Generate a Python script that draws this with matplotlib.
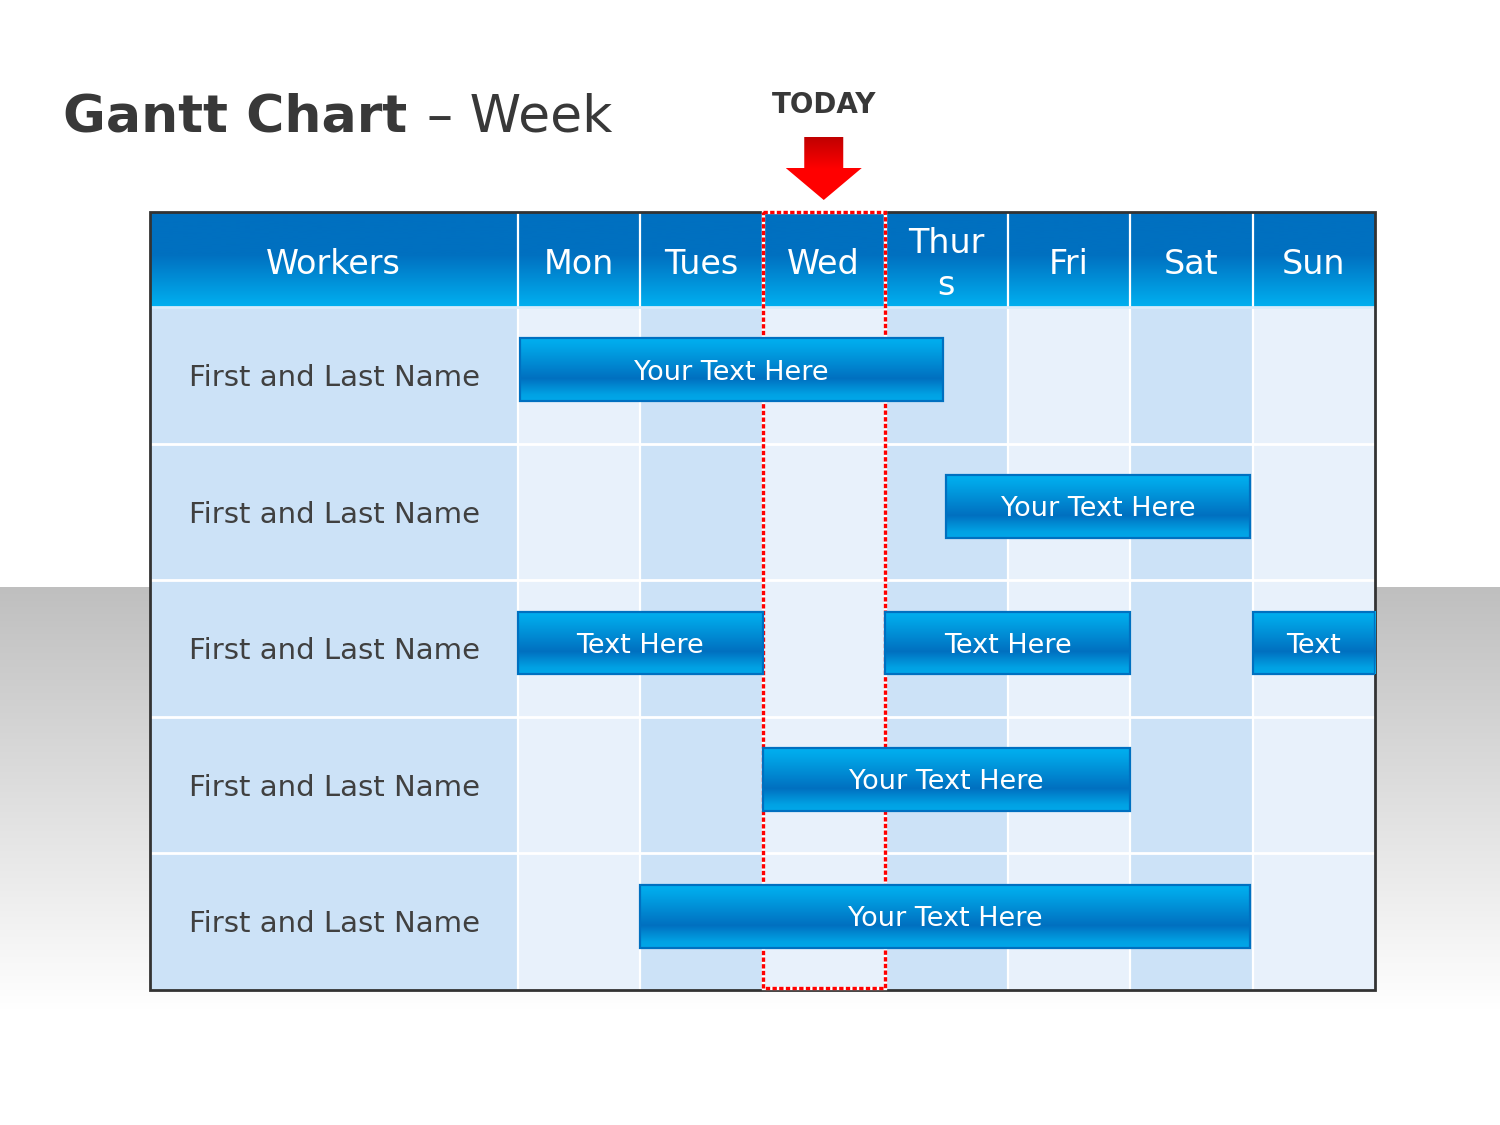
#! /usr/bin/env python

# Gantt chart for one week, drawn as a table with gradient bars

import numpy as np
import matplotlib.pyplot as plt
from matplotlib.patches import Rectangle, Polygon
from matplotlib.colors import LinearSegmentedColormap

plt.rcParams['font.family'] = ['DejaVu Sans']

# data
days = ["Mon", "Tues", "Wed", "Thur\ns", "Fri", "Sat", "Sun"]
workers = ["First and Last Name"] * 5
bar_row = [0, 1, 2, 2, 2, 3, 4]
bar_start = [0.02, 3.5, 0.0, 3.0, 6.0, 2.0, 1.0]
bar_end = [3.47, 5.98, 2.0, 5.0, 7.0, 5.0, 5.98]
bar_text = ["Your Text Here", "Your Text Here", "Text Here", "Text Here",
            "Text", "Your Text Here", "Your Text Here"]
today = 2  # Wed

light = "#e8f1fb"
dark = "#cce2f7"
hh = 95 / 136.6  # header height in row units

fig = plt.figure(figsize=(15, 11.25), dpi=100)

# background with the gray band
bg = fig.add_axes([0, 0, 1, 1])
bg.axis("off")
grey = LinearSegmentedColormap.from_list("grey", ["#bfbfbf", "#ffffff"])
bg.imshow(np.linspace(0, 1, 256)[:, None], cmap=grey, aspect="auto",
          extent=(0, 1500, 1010, 587))
bg.set_xlim(0, 1500)
bg.set_ylim(1125, 0)

# title
fig.text(63 / 1500, 1 - 131 / 1125, "Gantt Chart", fontsize=37.5,
         fontweight="bold", color="#383838", va="baseline")
fig.text(427 / 1500, 1 - 131 / 1125, "\u2013 Week", fontsize=37.5,
         color="#383838", va="baseline")

# table
ax = fig.add_axes([150 / 1500, 1 - 990 / 1125, 1225 / 1500, 778 / 1125])
ax.axis("off")
ax.set_xlim(-3, 7)
ax.set_ylim(5, -hh)

# column shading
ax.add_patch(Rectangle((-3, 0), 3, 5, facecolor=dark, edgecolor="none", zorder=1))
for i in range(len(days)):
    col = light if i % 2 == 0 else dark
    ax.add_patch(Rectangle((i, 0), 1, 5, facecolor=col, edgecolor="none", zorder=1))

# header gradient
head_cmap = LinearSegmentedColormap.from_list(
    "head", [(0, "#0070c0"), (0.45, "#0070c0"), (1, "#00b0f0")])
grad = np.linspace(0, 1, 256)[:, None]
ax.imshow(grad, cmap=head_cmap, aspect="auto", extent=(-3, 7, 0, -hh), zorder=2)

# grid lines
ax.vlines(range(0, 7), -hh, 5, colors="white", lw=1.6, zorder=3)
ax.hlines(range(1, 5), -3, 7, colors="white", lw=2, zorder=3)
ax.hlines([0], -3, 7, colors="#d8ecfb", lw=2, zorder=3)

# header text
hy = -hh / 2 + 5 / 136.6
ax.text(-1.5, hy, "Workers", ha="center", va="center", color="white",
        fontsize=24, zorder=6)
for i, d in enumerate(days):
    ax.text(i + 0.5, hy, d, ha="center", va="center", color="white",
            fontsize=24, linespacing=1.35, zorder=6)

# worker names
for r, name in enumerate(workers):
    ax.text(-3 + 39 / 122.5, r + 0.52, name, ha="left", va="center",
            color="#404040", fontsize=21, zorder=6)

# today marker
ax.add_patch(Rectangle((today, -hh), 1, 5 + hh - 0.015, fill=False,
                       edgecolor="white", lw=2.4, zorder=8, clip_on=False))
ax.add_patch(Rectangle((today, -hh), 1, 5 + hh - 0.015, fill=False,
                       edgecolor="#ff0000", lw=2.4, linestyle=(0, (1.3, 0.7)),
                       zorder=8, clip_on=False))

# bars
bar_cmap = LinearSegmentedColormap.from_list(
    "bar", [(0, "#00b0f0"), (0.15, "#00a4e6"), (0.64, "#0070c0"),
            (0.9, "#00a2e4"), (1, "#00a8ea")])
for r, s, e, t in zip(bar_row, bar_start, bar_end, bar_text):
    y0 = r + 0.23
    y1 = r + 0.69
    ax.imshow(grad, cmap=bar_cmap, aspect="auto", extent=(s, e, y1, y0), zorder=9)
    ax.add_patch(Rectangle((s, y0), e - s, y1 - y0, fill=False,
                           edgecolor="#0070c0", lw=1.6, zorder=9))
    ax.text((s + e) / 2, (y0 + y1) / 2 + 0.02, t, ha="center", va="center",
            color="white", fontsize=19.5, zorder=10)

# border
ax.add_patch(Rectangle((-3, -hh), 10, 5 + hh, fill=False, edgecolor="#333333",
                       lw=2, zorder=7, clip_on=False))

# TODAY arrow, drawn on the background axes at the today column
cx = today + 0.5
sw = 19.5 / 122.5
hw = 38 / 122.5
y_top = -hh - 75 / 136.6
y_head = -hh - 44 / 136.6
y_tip = -hh - 12 / 136.6
pts = np.array([(cx - sw, y_top), (cx + sw, y_top), (cx + sw, y_head),
                (cx + hw, y_head), (cx, y_tip), (cx - hw, y_head),
                (cx - sw, y_head)])
pts = bg.transData.inverted().transform(ax.transData.transform(pts))
arrow = Polygon(pts, closed=True, facecolor="none", edgecolor="none")
bg.add_patch(arrow)
red = LinearSegmentedColormap.from_list("red", [(0, "#c00000"), (0.5, "#ff0000"), (1, "#ff0000")])
im = bg.imshow(grad, cmap=red, aspect="auto",
               extent=(pts[:, 0].min(), pts[:, 0].max(),
                       pts[:, 1].max(), pts[:, 1].min()), zorder=5)
im.set_clip_path(arrow)
bg.set_xlim(0, 1500)
bg.set_ylim(1125, 0)
ax.text(cx, -hh - 107 / 136.6, "TODAY", ha="center", va="center",
        fontsize=20, fontweight="bold", color="#383838")

plt.savefig("out.png", dpi=100)
